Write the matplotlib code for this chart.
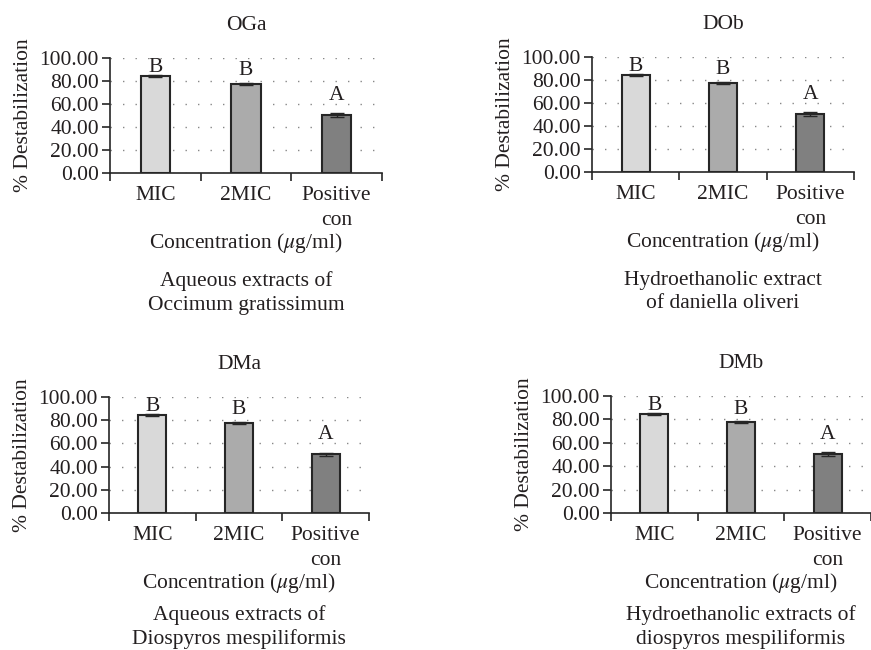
import matplotlib.pyplot as plt
import numpy as np

plt.rcParams['font.family'] = ['Liberation Serif', 'DejaVu Serif']
plt.rcParams['mathtext.fontset'] = 'stix'

TEXT = '#231f20'

categories = ['MIC', '2MIC', 'Positive\ncon']
panel_titles = ['OGa', 'DOb', 'DMa', 'DMb']
captions = ['Aqueous extracts of\nOccimum gratissimum',
            'Hydroethanolic extract\nof daniella oliveri',
            'Aqueous extracts of\nDiospyros mespiliformis',
            'Hydroethanolic extracts of\ndiospyros mespiliformis']
# mean % destabilization and error, per panel (all read the same off the figure)
means_oga = [84.5, 77.5, 50.5]
means_dob = [84.5, 77.5, 50.5]
means_dma = [84.5, 77.5, 50.5]
means_dmb = [84.5, 77.5, 50.5]
errors = [1.0, 0.8, 1.5]
letters = ['B', 'B', 'A']
letter_y = [88, 85, 63.5]
yticks = [0, 20, 40, 60, 80, 100]
bar_colors = ['#d9d9d9', '#ababab', '#808080']

all_means = [means_oga, means_dob, means_dma, means_dmb]

W, H = 871, 650
fig = plt.figure(figsize=(W / 100, H / 100), dpi=100)

# axes boxes in pixels: x0, x1, ytop, ybottom
boxes = [(110, 382, 58, 173), (592, 854, 57, 172),
         (109, 369, 397, 513), (611, 871, 396, 513)]
caption_offset = [-120, -120, -114, -114]

x = np.arange(len(categories))
fs = 15.5

for i, (x0, x1, yt, yb) in enumerate(boxes):
    ax = fig.add_axes([x0 / W, 1 - yb / H, (x1 - x0) / W, (yb - yt) / H])
    ax.bar(x, all_means[i], width=0.32, color=bar_colors, edgecolor='#262626',
           linewidth=1.5, yerr=errors, capsize=5,
           error_kw=dict(ecolor='#262626', elinewidth=1.0, capthick=1.0), zorder=3)
    for xi, lab, ly in zip(x, letters, letter_y):
        ax.text(xi, ly, lab, ha='center', va='baseline', fontsize=fs, color=TEXT, zorder=4)

    ax.set_xlim(-0.5, len(categories) - 0.5)
    ax.set_ylim(0, 100)
    ax.set_yticks(yticks)
    ax.set_yticklabels([f'{v:.2f}' for v in yticks])
    ax.set_xticks(x)
    ax.set_xticklabels(categories, linespacing=1.4)
    ax.set_xticks(np.arange(-0.5, len(categories)), minor=True)
    ax.tick_params(axis='x', which='major', length=0, pad=9.5, labelsize=fs, labelcolor=TEXT)
    ax.tick_params(axis='x', which='minor', length=6, width=1.2, direction='out', color='#262626')
    ax.tick_params(axis='y', length=6, width=1.2, pad=2, labelsize=fs, labelcolor=TEXT, color='#262626')

    for s in ['top', 'right']:
        ax.spines[s].set_visible(False)
    for s in ['left', 'bottom']:
        ax.spines[s].set_linewidth(1.2)
        ax.spines[s].set_color('#262626')

    ax.yaxis.grid(True, linestyle=(0, (1, 8)), color='#888888', linewidth=1, zorder=0)
    ax.set_axisbelow(True)

    ax.set_title(panel_titles[i], fontsize=fs, color=TEXT, pad=20)
    ax.set_ylabel('% Destabilization', fontsize=fs, color=TEXT, labelpad=5)
    ax.annotate('Concentration ($\\mu$g/ml)', xy=(0.5, 0), xycoords='axes fraction',
                xytext=(0, -70), textcoords='offset pixels', ha='center', va='center',
                fontsize=fs, color=TEXT)
    ax.annotate(captions[i], xy=(0.5, 0), xycoords='axes fraction',
                xytext=(0, caption_offset[i]), textcoords='offset pixels',
                ha='center', va='center', fontsize=fs, color=TEXT, linespacing=1.3)

fig.savefig('out.png', dpi=100)
